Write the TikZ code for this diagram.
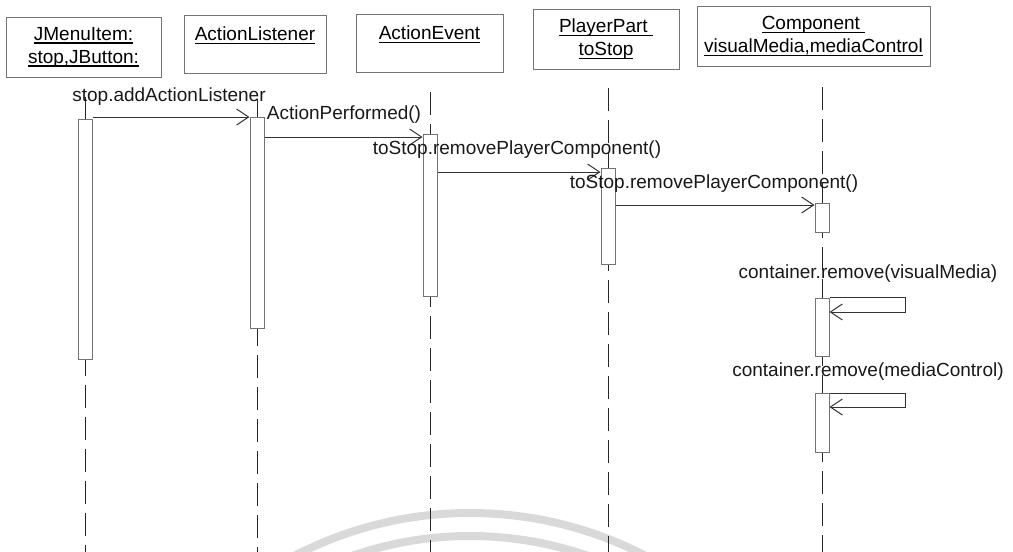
\documentclass[tikz,border=0pt]{standalone}
\usepackage{fontspec}
\setmainfont{Liberation Sans}
\usetikzlibrary{arrows.meta}
\newcommand\hul[1]{\setbox0\hbox{#1}\rlap{\raisebox{-3.5pt}{\rule{\wd0}{1.2pt}}}\box0}
\begin{document}
\begin{tikzpicture}[x=1pt,y=-1pt, font=\fontsize{19}{23}\selectfont,
 hdr/.style={draw=black!55, line width=1pt, align=center, inner sep=0pt},
 act/.style={draw=black!55, line width=1pt, fill=white, minimum width=14pt, inner sep=0pt},
 life/.style={black!85, line width=1pt, dash pattern=on 23pt off 9pt},
 msg/.style={black!80, line width=0.9pt, -{Straight Barb[length=12pt,width=16pt,line width=1pt]}},
 lbl/.style={anchor=base, inner sep=0pt, text=black!90},
 wm/.style={black!15, line width=8pt}]
\useasboundingbox (0,0) rectangle (1013,552);
% watermark arcs
\begin{scope}
\clip (0,0) rectangle (1013,552);
\coordinate (wc) at (470,893);
\draw[wm] (wc) circle[radius=380pt];
\draw[wm] (wc) circle[radius=357pt];
\end{scope}
% lifelines
\coordinate (t1) at (85,97);  \coordinate (b1) at (85,552);
\coordinate (t2) at (257,99); \coordinate (b2) at (257,552);
\coordinate (t3) at (430,92); \coordinate (b3) at (430,552);
\coordinate (t4) at (608,88); \coordinate (b4) at (608,552);
\coordinate (t5) at (822,87); \coordinate (b5) at (822,552);
\draw[life] (t1) -- (b1);
\draw[life] (t2) -- (b2);
\draw[life] (t3) -- (b3);
\draw[life] (t4) -- (b4);
\draw[life] (t5) -- (b5);
% activations
\node[act, minimum height=240pt] (a1) at (85,239) {};
\node[act, minimum height=211pt] (a2) at (257,222.5) {};
\node[act, minimum height=162pt] (a3) at (430,215) {};
\node[act, minimum height=96pt] (a4) at (608,216) {};
\node[act, minimum height=29pt] (a5) at (822,217.5) {};
\node[act, minimum height=58pt] (a6) at (822,327) {};
\node[act, minimum height=59pt] (a7) at (822,422.5) {};
% messages
\coordinate (m1) at (0,117);
\coordinate (m2) at (0,137);
\coordinate (m3) at (0,172);
\coordinate (m4) at (0,205);
\draw[msg] (a1.east |- m1) -- (a2.west |- m1);
\draw[msg] (a2.east |- m2) -- (a3.west |- m2);
\draw[msg] (a3.east |- m3) -- (a4.west |- m3);
\draw[msg] (a4.east |- m4) -- (a5.west |- m4);
\coordinate (s5a) at (905,297); \coordinate (s5b) at (905,312);
\coordinate (s6a) at (905,393); \coordinate (s6b) at (905,407);
\draw[msg] (a6.east |- s5a) -- (s5a) -- (s5b) -- (a6.east |- s5b);
\draw[msg] (a7.east |- s6a) -- (s6a) -- (s6b) -- (a7.east |- s6b);
% labels
\node[lbl] (l1) at (169,101) {stop.addActionListener};
\node[lbl] (l2) at (344,119) {ActionPerformed()};
\node[lbl] (l3) at (517,154) {toStop.removePlayerComponent()};
\node[lbl] (l4) at (714,188) {toStop.removePlayerComponent()};
\node[lbl] (l5) at (868,278) {container.remove(visualMedia)};
\node[lbl] (l6) at (868,376) {container.remove(mediaControl)};
% headers
\node[hdr, minimum width=155pt, minimum height=60pt] (h1) at (83.5,47) {\hul{JMenuItem:}\\\hul{stop,JButton:}};
\node[hdr, minimum width=142pt, minimum height=58pt] (h2) at (255,44) {\hul{ActionListener}\\[-3pt]\mbox{}};
\node[hdr, minimum width=147pt, minimum height=58pt] (h3) at (429.5,43) {\hul{ActionEvent}\\[-3pt]\mbox{}};
\node[hdr, minimum width=146pt, minimum height=60pt] (h4) at (606,39) {\hul{PlayerPart\ }\\\hul{toStop}};
\node[hdr, minimum width=233pt, minimum height=60pt] (h5) at (813.5,36) {\hul{Component\ }\\\hul{visualMedia,mediaControl}};
\end{tikzpicture}
\end{document}
